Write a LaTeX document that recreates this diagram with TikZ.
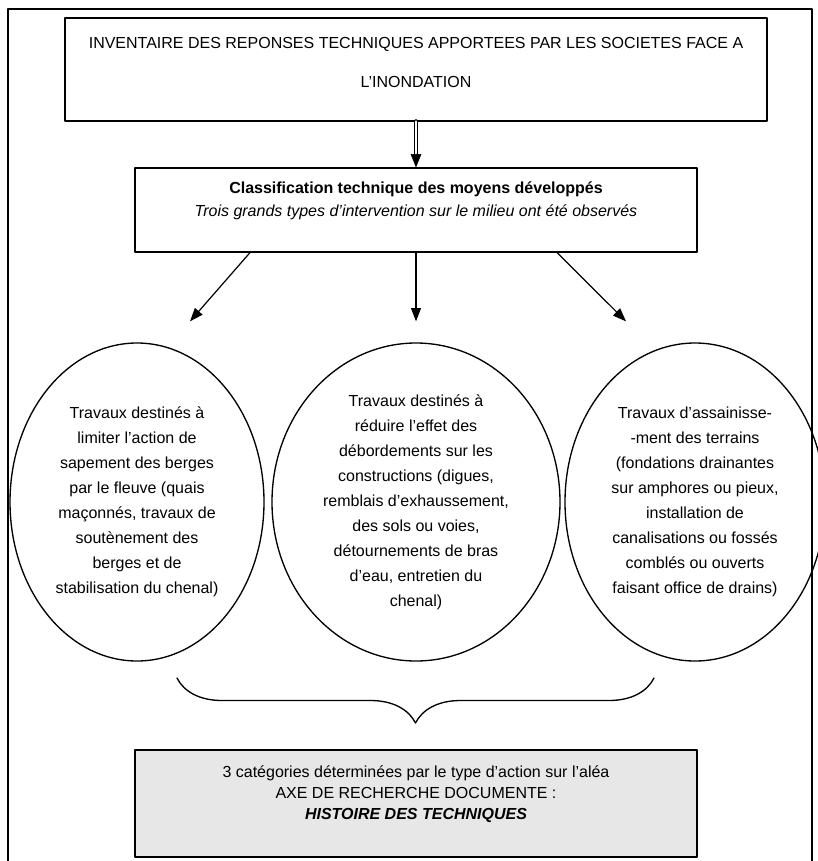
\documentclass[tikz,border=0pt]{standalone}
\usepackage{fontspec}
\setmainfont{Liberation Sans}
\usetikzlibrary{arrows.meta}
\usetikzlibrary{shapes.geometric}
\usetikzlibrary{decorations.pathreplacing}
\definecolor{boxgray}{RGB}{231,231,231}
\tikzset{
  cadre/.style={draw, rectangle, line width=0.9pt, inner sep=0pt},
  bulle/.style={draw, ellipse, line width=1pt, inner sep=0pt, align=center, font=\fontsize{12}{18.75}\selectfont},
  texte/.style={align=center, inner sep=0pt},
  fleche/.style={line width=0.9pt, -{Triangle[length=10pt, width=7.5pt]}},
}

\begin{document}
\begin{tikzpicture}[line cap=round,line join=round,x=0.75pt,y=-0.75pt]
\useasboundingbox (0,0) rectangle (818,861);
\draw [line width=1.6pt] (8,880) -- (8,9) -- (812,9) -- (812,880);
\node [cadre, minimum width=526.5pt, minimum height=77.25pt] (inv) at (416,69.5) {};
\node [texte, font=\fontsize{12}{29}\selectfont] (invtxt) at (416,62.5) {INVENTAIRE DES REPONSES TECHNIQUES APPORTEES PAR LES SOCIETES FACE A\\L’INONDATION};
\node [cadre, minimum width=421.5pt, minimum height=63pt] (cls) at (416,210) {};
\node [texte, font=\fontsize{12}{17}\selectfont] (clstxt) at (416,201) {\textbf{Classification technique des moyens développés}\\\textit{Trois grands types d’intervention sur le milieu ont été observés}};
\draw [line width=0.8pt, double, double distance=2pt] (inv.south) -- ([yshift=9pt]cls.north);
\draw [-{Triangle[length=10pt, width=8pt]}] ([yshift=10pt]cls.north) -- (cls.north);
\node [bulle, minimum width=190.5pt, minimum height=238.5pt] (gL) at (137,502) {Travaux destinés à\\limiter l’action de\\sapement des berges\\par le fleuve (quais\\maçonnés, travaux de\\soutènement des\\berges et de\\stabilisation du chenal)};
\node [bulle, minimum width=216pt, minimum height=238.5pt] (gM) at (416,502) {Travaux destinés à\\réduire l’effet des\\débordements sur les\\constructions (digues,\\remblais d’exhaussement,\\des sols ou voies,\\détournements de bras\\d’eau, entretien du\\chenal)};
\node [bulle, minimum width=195pt, minimum height=238.5pt] (gR) at (695,502) {Travaux d’assainisse-\\-ment des terrains\\(fondations drainantes\\sur amphores ou pieux,\\installation de\\canalisations ou fossés\\comblés ou ouverts\\faisant office de drains)};
\draw [fleche] ([xshift=-124.5pt]cls.south) -- ([shift={(39.75pt,15.75pt)}]gL.north);
\draw [fleche] (cls.south) -- ([yshift=15.75pt]gM.north);
\draw [fleche] ([xshift=105.75pt]cls.south) -- ([shift={(-51.75pt,15.75pt)}]gR.north);
\coordinate (accG) at (177,678);
\coordinate (accD) at (654,678);
\draw [line width=1pt, decorate, decoration={brace, mirror, amplitude=33.75pt}] (accG) -- (accD);
\node [cadre, fill=boxgray, minimum width=421.5pt, minimum height=80.25pt] (axe) at (416,803.5) {};
\node [texte, font=\fontsize{12}{15.75}\selectfont] (axetxt) at (416,794) {3 catégories déterminées par le type d’action sur l’aléa\\AXE DE RECHERCHE DOCUMENTE :\\\textbf{\textit{HISTOIRE DES TECHNIQUES}}};
\end{tikzpicture}
\end{document}
